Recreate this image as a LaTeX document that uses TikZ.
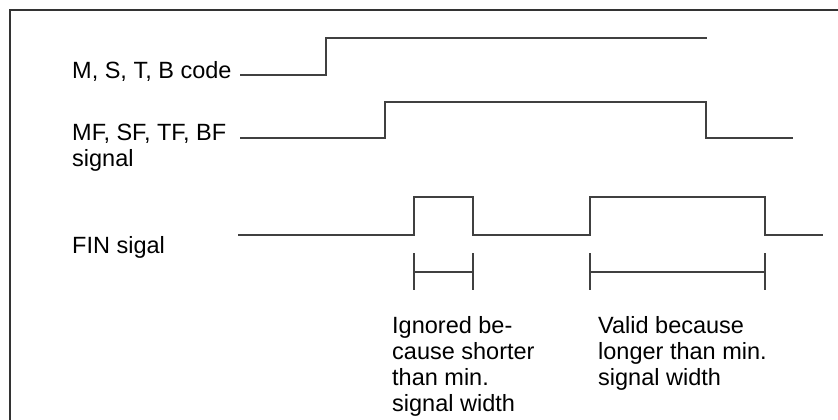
\documentclass[tikz,border=0pt]{standalone}
\usepackage{fontspec}
\setmainfont{Liberation Sans}
\begin{document}
\begin{tikzpicture}[x=1pt,y=-1pt,
  wave/.style={line width=1.3pt, draw=black!75},
  frame/.style={line width=2pt, draw=black!80},
  lbl/.style={anchor=base west, inner sep=0pt, font=\fontsize{23.5}{26}\selectfont, align=left}]
\useasboundingbox (0,0) rectangle (838,420);
\draw[frame] (10,421) -- (10,10) -- (839,10);

% labels (base anchor = baseline of the last line)
\node[lbl] (lm) at (72,78) {M, S, T, B code};
\node[lbl] (lmf) at (72,166) {MF, SF, TF, BF\\signal};
\node[lbl] (lfin) at (72,253) {FIN sigal};
\node[lbl] (lig) at (392,411) {Ignored be-\\cause shorter\\than min.\\signal width};
\node[lbl] (lva) at (598,385) {Valid because\\longer than min.\\signal width};

% M, S, T, B code
\coordinate (m0) at (240,75);
\coordinate (m1) at (326,75);
\coordinate (m2) at (326,38);
\coordinate (m3) at (707,38);
\draw[wave] (m0) -- (m1) -- (m2) -- (m3);

% MF, SF, TF, BF
\coordinate (f0) at (240,138);
\coordinate (f1) at (385,138);
\coordinate (f2) at (385,102);
\coordinate (f3) at (706,102);
\coordinate (f4) at (706,138);
\coordinate (f5) at (793,138);
\draw[wave] (f0) -- (f1) -- (f2) -- (f3) -- (f4) -- (f5);

% FIN
\coordinate (n0) at (238,235);
\coordinate (n1) at (414,235);
\coordinate (n2) at (414,197);
\coordinate (n3) at (473,197);
\coordinate (n4) at (473,235);
\coordinate (n5) at (590,235);
\coordinate (n6) at (590,197);
\coordinate (n7) at (765,197);
\coordinate (n8) at (765,235);
\coordinate (n9) at (823,235);
\draw[wave] (n0) -- (n1) -- (n2) -- (n3) -- (n4) -- (n5) -- (n6) -- (n7) -- (n8) -- (n9);

% width bars
\coordinate (a1t) at (414,253); \coordinate (a1b) at (414,290);
\coordinate (a2t) at (473,253); \coordinate (a2b) at (473,290);
\coordinate (a1m) at (414,272); \coordinate (a2m) at (473,272);
\draw[wave] (a1t) -- (a1b);
\draw[wave] (a2t) -- (a2b);
\draw[wave] (a1m) -- (a2m);
\coordinate (b1t) at (590,253); \coordinate (b1b) at (590,290);
\coordinate (b2t) at (765,253); \coordinate (b2b) at (765,290);
\coordinate (b1m) at (590,272); \coordinate (b2m) at (765,272);
\draw[wave] (b1t) -- (b1b);
\draw[wave] (b2t) -- (b2b);
\draw[wave] (b1m) -- (b2m);
\end{tikzpicture}
\end{document}
